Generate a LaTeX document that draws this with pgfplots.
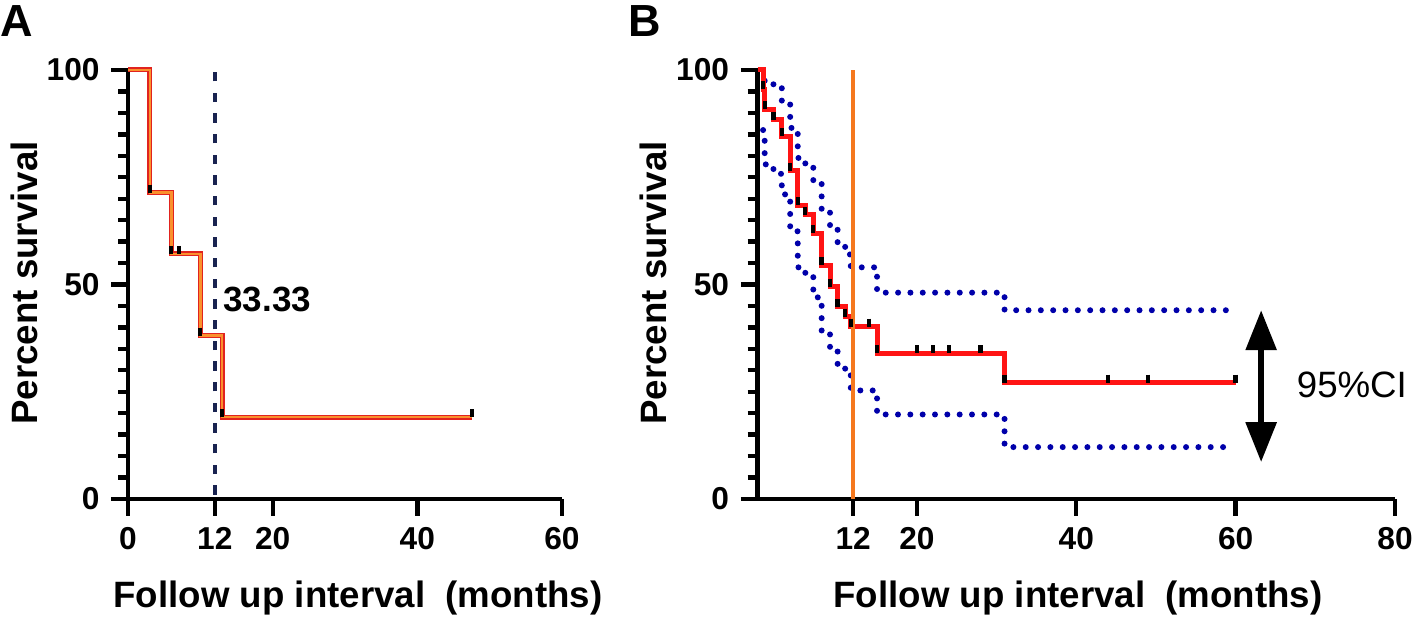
\documentclass[border=0pt]{standalone}
\usepackage{pgfplots}
\pgfplotsset{compat=1.18}
\usepackage{fontspec}
\setmainfont{Liberation Sans}
\usetikzlibrary{arrows.meta}

\definecolor{kmred}{RGB}{225,35,30}
\definecolor{kmorange}{RGB}{250,145,45}
\definecolor{navy}{RGB}{25,35,80}
\definecolor{bred}{RGB}{255,20,20}
\definecolor{borange}{RGB}{245,120,30}
\definecolor{ciblue}{RGB}{0,0,170}

\pgfplotsset{
  kmaxis/.style={
    scale only axis, axis lines=left, axis line style={-, line width=1.4pt},
    ymin=0, ymax=100, ytick={0,50,100}, minor y tick num=9,
    tick align=outside, major tick length=5pt, minor tick length=3pt,
    every tick/.append style={black, line width=1.3pt},
    tick label style={font=\fontsize{9.5}{11}\selectfont\bfseries},
    /pgf/number format/assume math mode=true,
    clip=false, height=128.7pt,
  }
}

\begin{document}
\begin{tikzpicture}
\useasboundingbox (0,0) rectangle (424.8pt,186.9pt);

% ---------------- Panel A ----------------
\begin{axis}[kmaxis, at={(38.4pt,37.2pt)}, anchor=south west, width=130.2pt,
  xmin=0, xmax=60, xtick={0,12,20,40,60}]
\addplot[const plot, draw=kmred, double=kmorange, double distance=0.7pt, line width=0.4pt]
  coordinates {(0,100)(3,71.43)(6,57.14)(10,38.10)(13,19.05)(47.6,19.05)};
\addplot[only marks, mark=|, mark size=1.2pt, mark options={yshift=1.2pt, line width=1.2pt, black}]
  coordinates {(3,71.43)(6,57.14)(10,38.10)(13,19.05)(7,57.14)(47.6,19.05)};
\addplot[navy, line width=1.2pt, dash pattern=on 2.8pt off 3.4pt]
  coordinates {(12,1)(12,100)};
\node[anchor=west, inner sep=0pt, font=\fontsize{10.5}{12}\selectfont\bfseries] at (axis cs:13.1,46.4) {33.33};
\end{axis}

% ---------------- Panel B ----------------
\begin{axis}[kmaxis, at={(227.25pt,37.2pt)}, anchor=south west, width=191.25pt,
  xmin=0, xmax=80, xtick={12,20,40,60,80}]
% upper 95% CI
\addplot[const plot, ciblue, line width=1.8pt, line cap=round, dash pattern=on 0pt off 3.7pt]
  coordinates {(0.9,97.5)(2.0,96)(3.05,92)(4.1,86.5)(5.05,79.5)(6.0,77.8)(7.0,74)(8.05,67.5)(9.1,63.5)(10.05,59)(11.0,57)(11.7,54)(15,48.1)(31,44.0)(59.5,44.0)};
% lower 95% CI
\addplot[const plot, ciblue, line width=1.8pt, line cap=round, dash pattern=on 0pt off 3.7pt]
  coordinates {(0.7,86)(0.9,78)(2.0,75.8)(3.05,71)(4.1,62.4)(5.05,54)(6.0,52)(7.0,47)(8.05,38.5)(9.1,34.5)(10.05,31.5)(11.0,29)(11.7,25.3)(15,19.7)(31,12.1)(59.5,12.1)};
% survival curve
\addplot[const plot, bred, line width=1.5pt]
  coordinates {(0,100)(0.7,95.5)(0.9,90.9)(2.0,88.4)(3.05,84.5)(4.1,76.5)(5.05,68.5)(6.0,66.2)(7.0,61.9)(8.05,54.5)(9.1,49.5)(10.05,44.8)(11.0,42.5)(11.7,40.2)(15,34.0)(31,27.1)(60,27.1)};
% event and censor marks
\addplot[only marks, mark=|, mark size=1.2pt, mark options={yshift=1.2pt, line width=1.3pt, black}]
  coordinates {(0.7,95.5)(0.9,90.9)(2.0,88.4)(3.05,84.5)(4.1,76.5)(5.05,68.5)(6.0,66.2)(7.0,61.9)(8.05,54.5)(9.1,49.5)(10.05,44.8)(11.0,42.5)(11.7,40.2)(15,34.0)(31,27.1)
  (14,40.2)(20,34.0)(22,34.0)(24,34.0)(28,34.0)(44,27.1)(49,27.1)(60,27.1)};
\addplot[borange, line width=1.1pt] coordinates {(12,0)(12,100)};
\addplot[black, line width=1.8pt, {Triangle[width=9pt,length=12pt]}-{Triangle[width=9pt,length=12pt]}]
  coordinates {(63.2,44)(63.2,8.6)};
\node[anchor=west, inner sep=0pt, font=\fontsize{11}{13}\selectfont] at (axis cs:67.6,26.6) {95\%CI};
\end{axis}

% labels
\node[anchor=north west, inner sep=0pt, font=\fontsize{13.5}{15}\selectfont\bfseries] at (0pt,185.4pt) {A};
\node[anchor=north west, inner sep=0pt, font=\fontsize{13.5}{15}\selectfont\bfseries] at (188.4pt,185.4pt) {B};
\node[rotate=90, font=\fontsize{11}{13}\selectfont\bfseries] at (7.2pt,102pt) {Percent survival};
\node[rotate=90, font=\fontsize{11}{13}\selectfont\bfseries] at (196pt,102pt) {Percent survival};
\node[anchor=base, inner sep=0pt, font=\fontsize{11}{13}\selectfont\bfseries] at (107.4pt,4.5pt) {Follow up interval\ \ (months)};
\node[anchor=base, inner sep=0pt, font=\fontsize{11}{13}\selectfont\bfseries] at (323.4pt,4.5pt) {Follow up interval\ \ (months)};
\end{tikzpicture}
\end{document}
